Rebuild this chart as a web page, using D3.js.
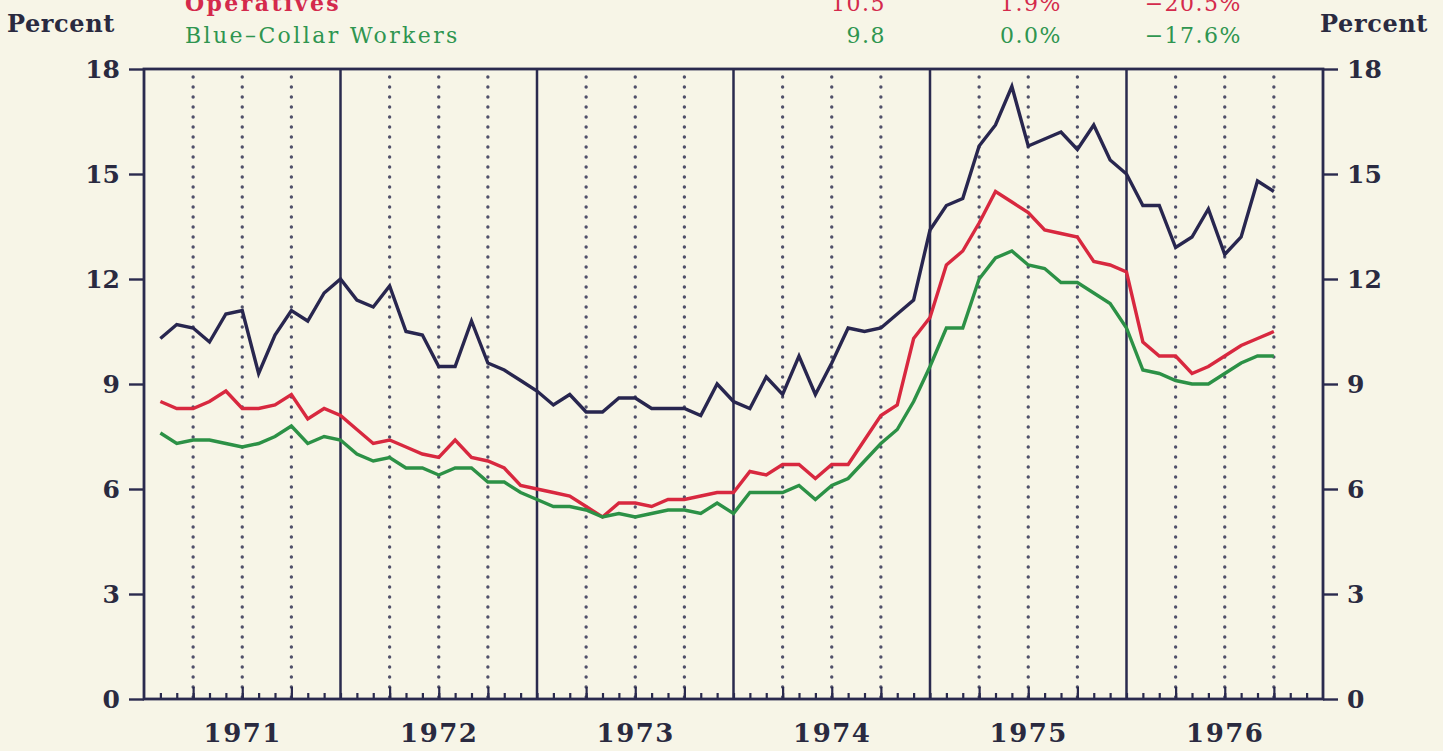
<!DOCTYPE html>
<html>
<head>
<meta charset="utf-8">
<script src="https://cdn.jsdelivr.net/npm/d3@7"></script>
<style>
  html, body { margin: 0; padding: 0; background: #f7f5e7; }
  svg { display: block; }
  .tick text { font-family: "DejaVu Serif", serif; font-weight: bold; fill: #2a2a40; }
</style>
</head>
<body>
<svg id="chart" width="1443" height="751"></svg>
<script>
// data, monthly, Feb 1971 .. Oct 1976
const years = ['1971', '1972', '1973', '1974', '1975', '1976'];
const firstMonth = 1; // index 0 = Jan 1971
const yTicks = [0, 3, 6, 9, 12, 15, 18];

const laborers = [
  10.3, 10.7, 10.6, 10.2, 11.0, 11.1, 9.3, 10.4, 11.1, 10.8, 11.6,
  12.0, 11.4, 11.2, 11.8, 10.5, 10.4, 9.5, 9.5, 10.8, 9.6, 9.4, 9.1,
  8.8, 8.4, 8.7, 8.2, 8.2, 8.6, 8.6, 8.3, 8.3, 8.3, 8.1, 9.0, 8.5,
  8.3, 9.2, 8.7, 9.8, 8.7, 9.6, 10.6, 10.5, 10.6, 11.0, 11.4, 13.4,
  14.1, 14.3, 15.8, 16.4, 17.5, 15.8, 16.0, 16.2, 15.7, 16.4, 15.4, 15.0,
  14.1, 14.1, 12.9, 13.2, 14.0, 12.7, 13.2, 14.8, 14.5
];
const operatives = [
  8.5, 8.3, 8.3, 8.5, 8.8, 8.3, 8.3, 8.4, 8.7, 8.0, 8.3,
  8.1, 7.7, 7.3, 7.4, 7.2, 7.0, 6.9, 7.4, 6.9, 6.8, 6.6, 6.1,
  6.0, 5.9, 5.8, 5.5, 5.2, 5.6, 5.6, 5.5, 5.7, 5.7, 5.8, 5.9, 5.9,
  6.5, 6.4, 6.7, 6.7, 6.3, 6.7, 6.7, 7.4, 8.1, 8.4, 10.3, 10.9,
  12.4, 12.8, 13.6, 14.5, 14.2, 13.9, 13.4, 13.3, 13.2, 12.5, 12.4, 12.2,
  10.2, 9.8, 9.8, 9.3, 9.5, 9.8, 10.1, 10.3, 10.5
];
const blueCollar = [
  7.6, 7.3, 7.4, 7.4, 7.3, 7.2, 7.3, 7.5, 7.8, 7.3, 7.5,
  7.4, 7.0, 6.8, 6.9, 6.6, 6.6, 6.4, 6.6, 6.6, 6.2, 6.2, 5.9,
  5.7, 5.5, 5.5, 5.4, 5.2, 5.3, 5.2, 5.3, 5.4, 5.4, 5.3, 5.6, 5.3,
  5.9, 5.9, 5.9, 6.1, 5.7, 6.1, 6.3, 6.8, 7.3, 7.7, 8.5, 9.5,
  10.6, 10.6, 12.0, 12.6, 12.8, 12.4, 12.3, 11.9, 11.9, 11.6, 11.3, 10.6,
  9.4, 9.3, 9.1, 9.0, 9.0, 9.3, 9.6, 9.8, 9.8
];

const legendNames = ['Operatives', 'Blue\u2013Collar  Workers'];
const legendLast = ['10.5', '9.8'];
const legendMonth = ['1.9%', '0.0%'];
const legendYear = ['\u221220.5%', '\u221217.6%'];
const legendColors = ['#d42a4c', '#2f9550'];

const navy = '#2a2a4e';
const svg = d3.select('#chart');

const nMonths = years.length * 12;
const x = d3.scaleLinear().domain([0, nMonths]).range([144, 1323]);
const y = d3.scaleLinear().domain([0, 18]).range([699, 69]);

// vertical grid: dotted quarters, solid years
const quarters = d3.range(3, nMonths, 3).filter(m => m % 12 !== 0);
const yearLines = d3.range(12, nMonths, 12);

svg.append('g').selectAll('line')
  .data(quarters)
  .join('line')
  .attr('x1', d => x(d)).attr('x2', d => x(d))
  .attr('y1', y(18) + 8).attr('y2', y(0))
  .attr('stroke', '#50506a')
  .attr('stroke-width', 3.4)
  .attr('stroke-linecap', 'round')
  .attr('stroke-dasharray', '0,10');

svg.append('g').selectAll('line')
  .data(yearLines)
  .join('line')
  .attr('x1', d => x(d)).attr('x2', d => x(d))
  .attr('y1', y(18)).attr('y2', y(0))
  .attr('stroke', navy)
  .attr('stroke-width', 2.5);

// monthly ticks on the bottom axis, pointing up
svg.append('g')
  .attr('transform', `translate(0,${y(0)})`)
  .call(d3.axisBottom(x).tickValues(d3.range(1, nMonths)).tickSize(-6).tickFormat(''))
  .call(g => g.select('.domain').remove())
  .call(g => g.selectAll('line').attr('stroke', navy).attr('stroke-width', 2.2));

svg.append('g')
  .attr('transform', `translate(0,${y(0)})`)
  .call(d3.axisBottom(x).tickValues(quarters).tickSize(-12).tickFormat(''))
  .call(g => g.select('.domain').remove())
  .call(g => g.selectAll('line').attr('stroke', navy).attr('stroke-width', 2.2));

// year labels
svg.append('g')
  .attr('transform', `translate(0,${y(0)})`)
  .call(d3.axisBottom(x).tickValues(years.map((d, i) => i * 12 + 6))
    .tickSize(0).tickPadding(25).tickFormat((d, i) => years[i]))
  .call(g => g.select('.domain').remove())
  .call(g => g.selectAll('text').style('font-size', '26px').style('letter-spacing', '1.5px'));

// left and right axes
const styleAxis = g => {
  g.select('.domain').remove();
  g.selectAll('line').attr('stroke', navy).attr('stroke-width', 2.4);
  g.selectAll('text').style('font-size', '25px');
};
svg.append('g')
  .attr('transform', `translate(${x(0)},0)`)
  .call(d3.axisLeft(y).tickValues(yTicks).tickSize(15).tickPadding(9))
  .call(styleAxis);
svg.append('g')
  .attr('transform', `translate(${x(nMonths)},0)`)
  .call(d3.axisRight(y).tickValues(yTicks).tickSize(15).tickPadding(9))
  .call(styleAxis);

// frame
svg.append('rect')
  .attr('x', x(0)).attr('y', y(18))
  .attr('width', x(nMonths) - x(0)).attr('height', y(0) - y(18))
  .attr('fill', 'none')
  .attr('stroke', navy)
  .attr('stroke-width', 2.8);

// series lines
const line = d3.line()
  .x((d, i) => x(firstMonth + i))
  .y(d => y(d));

[[laborers, '#28264f'], [operatives, '#d8283f'], [blueCollar, '#2c9146']].forEach(([s, c]) => {
  svg.append('path')
    .datum(s)
    .attr('d', line)
    .attr('fill', 'none')
    .attr('stroke', c)
    .attr('stroke-width', 3.4)
    .attr('stroke-linejoin', 'miter');
});

// axis titles
const titleFont = t => t
  .style('font-family', '"DejaVu Serif", serif').style('font-weight', 'bold')
  .style('font-size', '24px').style('letter-spacing', '0.6px').attr('fill', '#2a2a40');
svg.append('text').text('Percent').attr('x', 7).attr('y', 32).call(titleFont);
svg.append('text').text('Percent').attr('x', 1428).attr('y', 32)
  .attr('text-anchor', 'end').call(titleFont);

// legend rows (the top one runs off the page edge, as in the source)
const rowY = [11, 43];
const legend = svg.append('g')
  .style('font-family', '"DejaVu Serif", serif')
  .style('font-size', '22px');
legendNames.forEach((name, i) => {
  const row = legend.append('g').attr('fill', legendColors[i]);
  row.append('text').text(name).attr('x', 185).attr('y', rowY[i])
    .style('letter-spacing', '2.4px')
    .style('font-weight', i === 0 ? 'bold' : 'normal');
  row.append('text').text(legendLast[i]).attr('x', 886).attr('y', rowY[i])
    .attr('text-anchor', 'end').style('letter-spacing', '1.5px');
  row.append('text').text(legendMonth[i]).attr('x', 1062).attr('y', rowY[i])
    .attr('text-anchor', 'end').style('letter-spacing', '1.5px');
  row.append('text').text(legendYear[i]).attr('x', 1242).attr('y', rowY[i])
    .attr('text-anchor', 'end').style('letter-spacing', '1.5px');
});
</script>
</body>
</html>
